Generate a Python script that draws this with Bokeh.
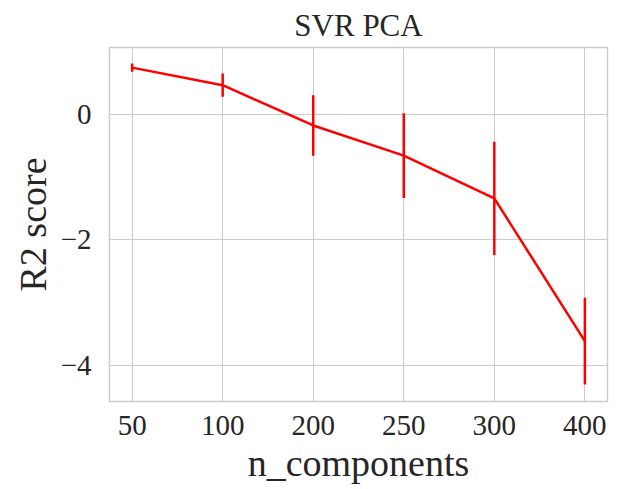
from bokeh.plotting import figure
from bokeh.models import Range1d, FixedTicker
from bokeh.embed import file_html
from bokeh.resources import INLINE

# Cross-validated R2 of SVR after PCA, by number of components
n_components = ["50", "100", "200", "250", "300", "400"]
r2_mean = [0.74, 0.46, -0.18, -0.66, -1.34, -3.61]
r2_std = [0.065, 0.185, 0.48, 0.675, 0.90, 0.69]

x = list(range(len(n_components)))
lower = [m - s for m, s in zip(r2_mean, r2_std)]
upper = [m + s for m, s in zip(r2_mean, r2_std)]

FONT = "Liberation Serif"
TEXT = "#262626"
GRID = "#cccccc"

p = figure(width=619, height=489, output_backend="svg", toolbar_location=None,
           x_range=Range1d(-0.25, 5.25), y_range=Range1d(-4.57, 1.06),
           min_border_left=109, min_border_right=12,
           min_border_top=45, min_border_bottom=88)

p.title.text = "SVR PCA"
p.title.align = "center"
p.title.text_font = FONT
p.title.text_font_size = "31px"
p.title.text_font_style = "normal"
p.title.text_color = TEXT

p.outline_line_color = GRID
p.outline_line_width = 1.5

for ax in (p.xaxis, p.yaxis):
    ax.axis_line_color = None
    ax.major_tick_line_color = None
    ax.minor_tick_line_color = None
    ax.major_label_text_font = FONT
    ax.major_label_text_font_size = "29px"
    ax.major_label_text_color = TEXT
    ax.axis_label_text_font = FONT
    ax.axis_label_text_font_size = "38px"
    ax.axis_label_text_font_style = "normal"
    ax.axis_label_text_color = TEXT

p.xaxis.ticker = FixedTicker(ticks=x)
p.xaxis.major_label_overrides = {i: lab for i, lab in enumerate(n_components)}
p.xaxis.axis_label = "n_components"
p.xaxis.major_label_standoff = 8
p.xaxis.axis_label_standoff = 4

p.yaxis.ticker = FixedTicker(ticks=[-4, -2, 0])
p.yaxis.major_label_overrides = {-4: "\u22124", -2: "\u22122", 0: "0"}
p.yaxis.axis_label = "R2 score"
p.yaxis.major_label_standoff = 12
p.yaxis.axis_label_standoff = 4

p.xgrid.grid_line_color = GRID
p.ygrid.grid_line_color = GRID
p.xgrid.grid_line_width = 1
p.ygrid.grid_line_width = 1

p.line(x, r2_mean, line_color="#ff0000", line_width=2.5)
p.segment(x0=x, y0=lower, x1=x, y1=upper, line_color="#ff0000", line_width=2.5)

open("out.html", "w").write(file_html(p, INLINE))
